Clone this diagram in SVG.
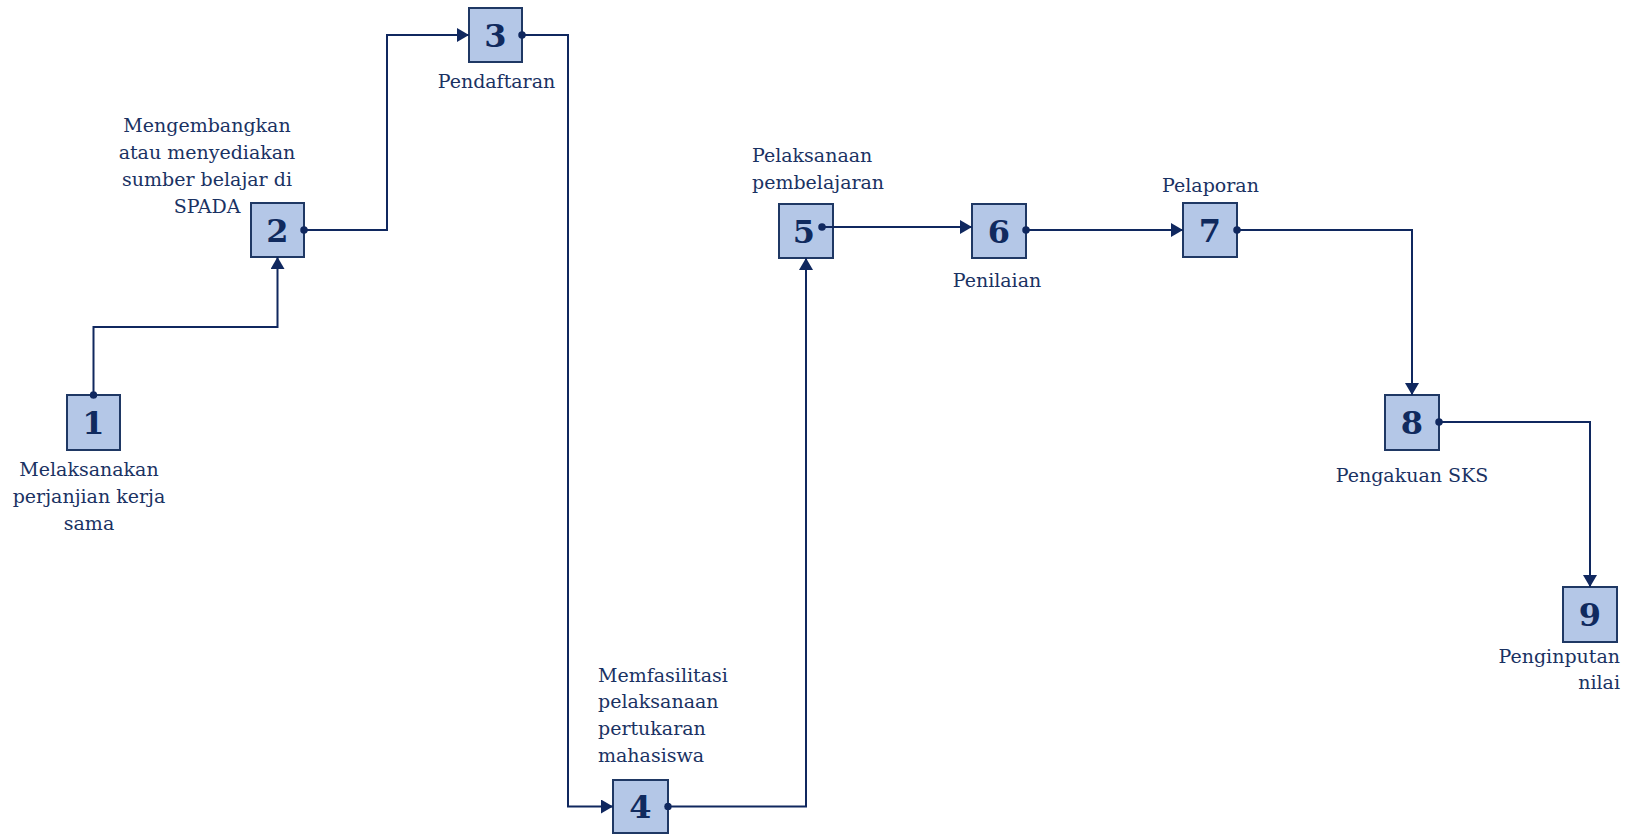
<svg xmlns="http://www.w3.org/2000/svg" width="1637" height="835" viewBox="0 0 1637 835">
<style>
.box{fill:#b4c7e7;stroke:#1f3864;stroke-width:2}
.num{font-family:"DejaVu Serif","Liberation Serif",serif;font-weight:bold;font-size:32px;fill:#102a5e;text-anchor:middle}
.lbl{font-family:"DejaVu Serif","Liberation Serif",serif;font-size:19px;fill:#1a3263}
.c{text-anchor:middle}
.r{text-anchor:end}
.ln{fill:none;stroke:#10285f;stroke-width:2;marker-start:url(#dot);marker-end:url(#arr)}
</style>
<defs>
<marker id="arr" viewBox="0 0 12 14" refX="12" refY="7" markerWidth="12" markerHeight="14" markerUnits="userSpaceOnUse" orient="auto">
<path d="M0 0 L12 7 L0 14 z" fill="#10285f"/>
</marker>
<marker id="dot" viewBox="0 0 8 8" refX="4" refY="4" markerWidth="7.5" markerHeight="7.5" markerUnits="userSpaceOnUse" orient="auto">
<circle cx="4" cy="4" r="4" fill="#10285f"/>
</marker>
</defs>
<g id="node1">
<rect class="box" x="67" y="395" width="53" height="55"/>
<text class="num" x="93.5" y="434">1</text>
<text class="lbl c" x="89" y="476">Melaksanakan</text>
<text class="lbl c" x="89" y="503">perjanjian kerja</text>
<text class="lbl c" x="89" y="530">sama</text>
</g>
<g id="node2">
<rect class="box" x="251" y="203" width="53" height="54"/>
<text class="num" x="277.5" y="242">2</text>
<text class="lbl c" x="207" y="132">Mengembangkan</text>
<text class="lbl c" x="207" y="159">atau menyediakan</text>
<text class="lbl c" x="207" y="186">sumber belajar di</text>
<text class="lbl c" x="207" y="213">SPADA</text>
</g>
<g id="node3">
<rect class="box" x="469" y="8" width="53" height="54"/>
<text class="num" x="495.5" y="47">3</text>
<text class="lbl c" x="496.5" y="88">Pendaftaran</text>
</g>
<g id="node4">
<rect class="box" x="613" y="780" width="55" height="53"/>
<text class="num" x="640.5" y="818">4</text>
<text class="lbl" x="598" y="682">Memfasilitasi</text>
<text class="lbl" x="598" y="708">pelaksanaan</text>
<text class="lbl" x="598" y="735">pertukaran</text>
<text class="lbl" x="598" y="762">mahasiswa</text>
</g>
<g id="node5">
<rect class="box" x="779" y="204" width="54" height="54"/>
<text class="num" x="804" y="243">5</text>
<text class="lbl" x="752" y="162">Pelaksanaan</text>
<text class="lbl" x="752" y="189">pembelajaran</text>
</g>
<g id="node6">
<rect class="box" x="972" y="204" width="54" height="54"/>
<text class="num" x="999" y="243">6</text>
<text class="lbl c" x="997" y="287">Penilaian</text>
</g>
<g id="node7">
<rect class="box" x="1183" y="203" width="54" height="54"/>
<text class="num" x="1210" y="242">7</text>
<text class="lbl c" x="1210.5" y="192">Pelaporan</text>
</g>
<g id="node8">
<rect class="box" x="1385" y="395" width="54" height="55"/>
<text class="num" x="1412" y="434">8</text>
<text class="lbl c" x="1412" y="482">Pengakuan SKS</text>
</g>
<g id="node9">
<rect class="box" x="1563" y="587" width="54" height="55"/>
<text class="num" x="1590" y="626">9</text>
<text class="lbl r" x="1620" y="663">Penginputan</text>
<text class="lbl r" x="1620" y="689">nilai</text>
</g>
<g id="connectors">
<path class="ln" d="M93.5 395 V327 H277.5 V257"/>
<path class="ln" d="M304 230 H387 V35 H469"/>
<path class="ln" d="M522 35 H568 V806.5 H613"/>
<path class="ln" d="M668 806.5 H806 V258"/>
<path class="ln" d="M822 227 H972"/>
<path class="ln" d="M1026 230 H1183"/>
<path class="ln" d="M1237 230 H1412 V395"/>
<path class="ln" d="M1439 422 H1590 V587"/>
</g>
</svg>
